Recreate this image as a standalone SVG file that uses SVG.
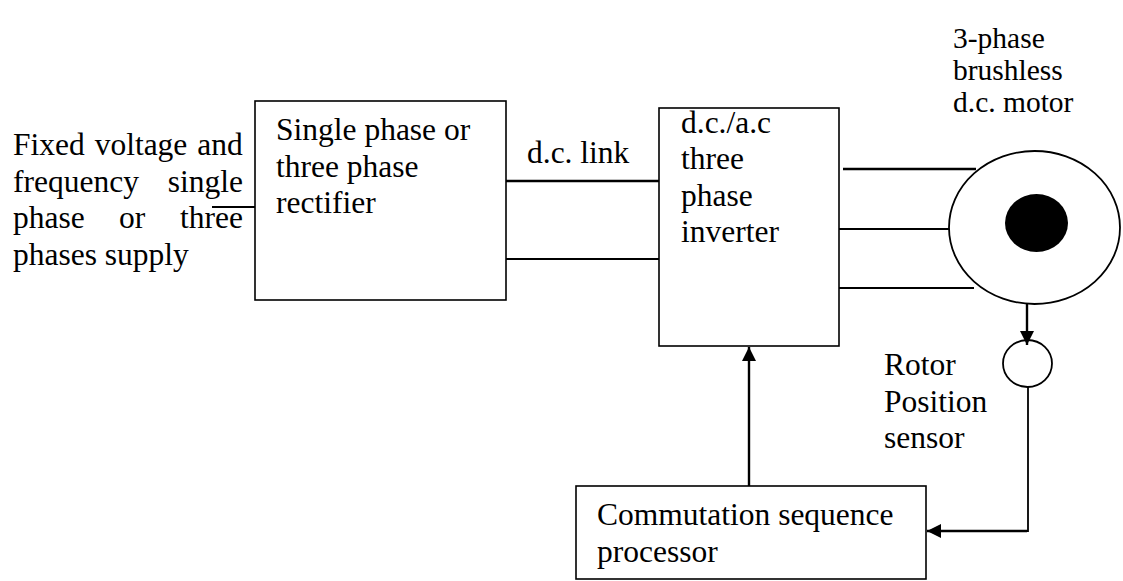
<svg xmlns="http://www.w3.org/2000/svg" width="1123" height="581" viewBox="0 0 1123 581">
  <defs>
    <style>
      text { font-family: "Liberation Serif", "Times New Roman", serif; font-size: 31.5px; fill: #000; }
      .small { font-size: 29.5px; }
      .box { fill: #fff; stroke: #000; stroke-width: 1.6; }
      .wire { stroke: #000; stroke-width: 1.8; fill: none; }
      .thick { stroke: #000; stroke-width: 2.4; fill: none; }
    </style>
    <marker id="arrow" viewBox="0 0 14 14" refX="14" refY="7" markerWidth="14" markerHeight="14" markerUnits="userSpaceOnUse" orient="auto">
      <path d="M0,0 L14,7 L0,14 Z" fill="#000"/>
    </marker>
  </defs>
  <rect width="1123" height="581" fill="#fff"/>

  <!-- supply description, justified block -->
  <g id="supply">
    <text x="13" y="155" word-spacing="2">Fixed voltage and</text>
    <text y="192"><tspan x="13">frequency</tspan><tspan x="243" text-anchor="end">single</tspan></text>
    <text y="228"><tspan x="13">phase</tspan><tspan x="119">or</tspan><tspan x="243" text-anchor="end">three</tspan></text>
    <text x="13" y="265">phases supply</text>
  </g>

  <!-- connectors -->
  <g id="connectors">
    <line class="wire" x1="212" y1="207" x2="255" y2="207"/>
    <line class="thick" x1="506" y1="181" x2="659" y2="181"/>
    <line class="wire" x1="506" y1="259" x2="659" y2="259"/>
    <line class="thick" x1="843" y1="169" x2="976" y2="169"/>
    <line class="wire" x1="839" y1="229" x2="949" y2="229"/>
    <line class="wire" x1="839" y1="288" x2="974" y2="288"/>
    <line class="thick" x1="749" y1="486" x2="749" y2="347" marker-end="url(#arrow)"/>
    <line class="thick" x1="1027" y1="304" x2="1027" y2="345" marker-end="url(#arrow)"/>
    <polyline class="wire" points="1028,387 1028,531 1024,531"/>
    <line class="thick" x1="1027" y1="531" x2="927" y2="531" marker-end="url(#arrow)"/>
  </g>

  <g id="rectifier">
    <rect class="box" x="255" y="101" width="251" height="199"/>
    <text x="276" y="140">Single phase or</text>
    <text x="276" y="177">three phase</text>
    <text x="276" y="213">rectifier</text>
  </g>

  <g id="dc-link-label">
    <text x="527" y="163">d.c. link</text>
  </g>

  <g id="inverter">
    <rect class="box" x="659" y="108" width="180" height="238"/>
    <text x="681" y="133">d.c./a.c</text>
    <text x="681" y="169">three</text>
    <text x="681" y="206">phase</text>
    <text x="681" y="242">inverter</text>
  </g>

  <g id="motor">
    <ellipse cx="1034.5" cy="227.5" rx="85.5" ry="76.5" fill="#fff" stroke="#000" stroke-width="1.8"/>
    <ellipse cx="1036.5" cy="223" rx="31.5" ry="29" fill="#000"/>
    <text class="small" x="953" y="48">3-phase</text>
    <text class="small" x="953" y="80">brushless</text>
    <text class="small" x="953" y="112">d.c. motor</text>
  </g>

  <g id="sensor">
    <ellipse cx="1027.5" cy="363.5" rx="24.5" ry="23.5" fill="none" stroke="#000" stroke-width="1.8"/>
    <text x="884" y="375">Rotor</text>
    <text x="884" y="412">Position</text>
    <text x="884" y="448">sensor</text>
  </g>

  <g id="commutation">
    <rect class="box" x="576" y="486" width="350" height="93"/>
    <text x="597" y="525">Commutation sequence</text>
    <text x="597" y="562">processor</text>
  </g>
</svg>
